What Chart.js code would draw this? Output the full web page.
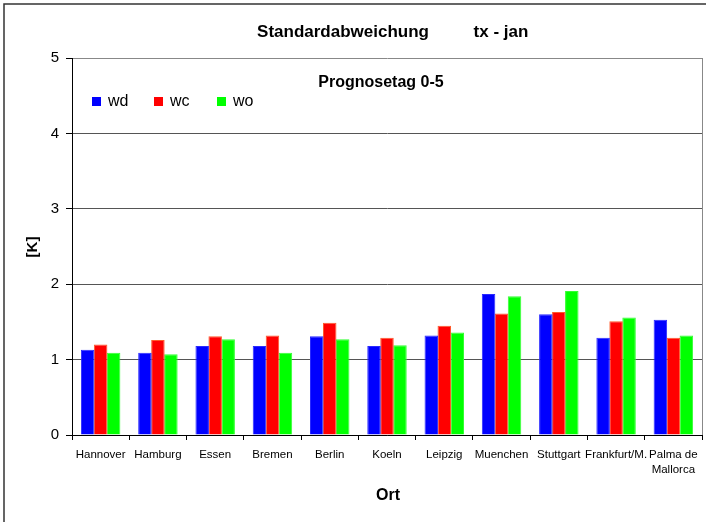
<!DOCTYPE html>
<html>
<head>
<meta charset="utf-8">
<title>Standardabweichung tx - jan</title>
<script src="https://cdn.jsdelivr.net/npm/chart.js@4"></script>
<style>
  html, body { margin: 0; padding: 0; background: #fff; }
  canvas { display: block; }
</style>
</head>
<body>
<canvas id="chart" width="706" height="522"></canvas>
<script>
// values
const orte = ['Hannover', 'Hamburg', 'Essen', 'Bremen', 'Berlin', 'Koeln', 'Leipzig',
              'Muenchen', 'Stuttgart', 'Frankfurt/M.', ['Palma de', 'Mallorca']];
const wd = [1.13, 1.09, 1.18, 1.18, 1.31, 1.18, 1.32, 1.87, 1.60, 1.29, 1.53];
const wc = [1.20, 1.26, 1.31, 1.32, 1.49, 1.29, 1.45, 1.61, 1.63, 1.51, 1.29];
const wo = [1.09, 1.07, 1.27, 1.09, 1.27, 1.19, 1.36, 1.84, 1.91, 1.56, 1.32];
const yTicks = [0, 1, 2, 3, 4, 5];

const FONT = '"Liberation Sans", Arial, sans-serif';

const legendItems = [
  { label: 'wd', color: '#0000ff', x: 92 },
  { label: 'wc', color: '#ff0000', x: 154 },
  { label: 'wo', color: '#00ff00', x: 217 }
];

const decorations = {
  id: 'decorations',
  beforeDatasetsDraw(chart) {
    const { ctx, chartArea } = chart;
    ctx.save();
    ctx.strokeStyle = '#888';
    ctx.lineWidth = 1;
    ctx.beginPath();
    ctx.moveTo(chartArea.right + 0.5, chartArea.top);
    ctx.lineTo(chartArea.right + 0.5, chartArea.bottom);
    ctx.stroke();
    ctx.restore();
  },
  afterDraw(chart) {
    const { ctx } = chart;
    ctx.save();
    // outer frame (runs off the right and bottom edge)
    ctx.strokeStyle = '#333';
    ctx.lineWidth = 1.5;
    ctx.strokeRect(4, 4, 720, 540);

    ctx.fillStyle = '#000';
    ctx.textBaseline = 'middle';
    ctx.textAlign = 'center';
    ctx.font = 'bold 17px ' + FONT;
    ctx.fillText('Standardabweichung', 343, 32);
    ctx.fillText('tx - jan', 501, 32);

    ctx.font = 'bold 16px ' + FONT;
    ctx.fillText('Prognosetag 0-5', 381, 83);
    ctx.fillText('Ort', 388, 496);

    ctx.save();
    ctx.translate(32.5, 247);
    ctx.rotate(-Math.PI / 2);
    ctx.font = 'bold 15px ' + FONT;
    ctx.fillText('[K]', 0, 0);
    ctx.restore();

    ctx.textAlign = 'left';
    ctx.font = '16px ' + FONT;
    legendItems.forEach(item => {
      ctx.fillStyle = item.color;
      ctx.fillRect(item.x, 97, 9, 9);
      ctx.fillStyle = '#000';
      ctx.fillText(item.label, item.x + 16, 102);
    });
    ctx.restore();
  }
};

new Chart(document.getElementById('chart').getContext('2d'), {
  type: 'bar',
  data: {
    labels: orte,
    datasets: [
      { label: 'wd', data: wd, backgroundColor: '#0000ff', borderColor: '#2a2aff', borderWidth: 1 },
      { label: 'wc', data: wc, backgroundColor: '#ff0000', borderColor: '#ff5a2a', borderWidth: 1 },
      { label: 'wo', data: wo, backgroundColor: '#00ff00', borderColor: '#33ff33', borderWidth: 1 }
    ]
  },
  options: {
    responsive: false,
    animation: false,
    devicePixelRatio: 1,
    categoryPercentage: 0.68,
    barPercentage: 1.04,
    layout: { padding: { top: 58, right: 4, left: 0, bottom: 0 } },
    plugins: {
      legend: { display: false },
      title: { display: false },
      tooltip: { enabled: false }
    },
    scales: {
      x: {
        offset: true,
        grid: { offset: true, drawOnChartArea: false, drawTicks: true, tickLength: 5, tickColor: '#000' },
        border: { color: '#000', width: 1 },
        ticks: {
          color: '#000', font: { family: FONT, size: 11.5, lineHeight: 1.35 },
          autoSkip: false, maxRotation: 0, minRotation: 0, padding: 7
        },
        afterFit: scale => { scale.height = 87; }
      },
      y: {
        min: 0,
        max: 5,
        afterBuildTicks: scale => { scale.ticks = yTicks.map(v => ({ value: v })); },
        grid: {
          color: ctx => ctx.tick && ctx.tick.value === 5 ? '#888' : '#555',
          tickColor: '#000', tickLength: 6
        },
        border: { color: '#000', width: 1 },
        ticks: { color: '#000', font: { family: FONT, size: 15 }, padding: 7 },
        afterFit: scale => { scale.width = 72; }
      }
    }
  },
  plugins: [decorations]
});
</script>
</body>
</html>
